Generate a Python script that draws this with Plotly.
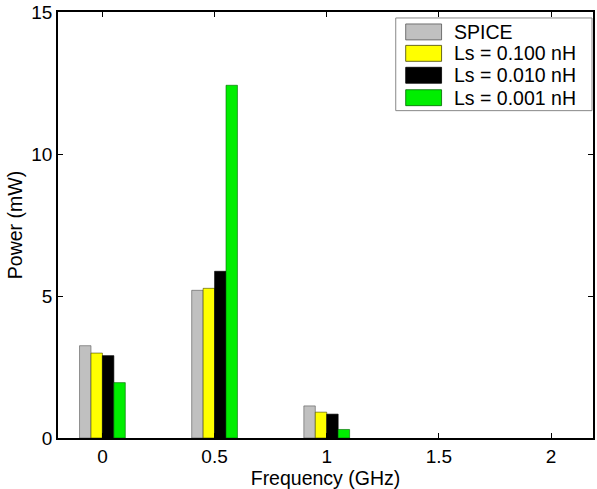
import plotly.graph_objects as go

freq = [0, 0.5, 1.0, 1.5, 2.0]
series_names = ["SPICE", "Ls = 0.100 nH", "Ls = 0.010 nH", "Ls = 0.001 nH"]
spice = [3.25, 5.20, 1.13, 0.0, 0.0]
ls_0100 = [2.99, 5.27, 0.91, 0.0, 0.0]
ls_0010 = [2.90, 5.87, 0.84, 0.0, 0.0]
ls_0001 = [1.95, 12.42, 0.30, 0.0, 0.0]
series_values = [spice, ls_0100, ls_0010, ls_0001]
colors = ["#c0c0c0", "#ffff00", "#000000", "#00ee00"]
edge_colors = ["#555555", "#444400", "#000000", "#006600"]
x_ticks = [0, 0.5, 1, 1.5, 2]
x_ticklabels = ["0", "0.5", "1", "1.5", "2"]
y_ticks = [0, 5, 10, 15]

FONT = "Liberation Sans, Arial, Helvetica, sans-serif"

fig = go.Figure()
for name, vals, c, ec in zip(series_names, series_values, colors, edge_colors):
    widths = [0.6 if v > 0 else 0 for v in vals]
    fig.add_trace(go.Bar(x=freq, y=vals, name=name,
                         marker=dict(color=c, line=dict(color=ec, width=widths)),
                         showlegend=False))

W, H = 597, 489
L, R, T, B = 58, 2, 10.5, 51
pw = W - L - R
ph = H - T - B

def px_x(p):
    return (p - L) / pw

def px_y(p):
    return (H - B - p) / ph

shapes = []
annotations = []
# legend box
shapes.append(dict(type="rect", xref="paper", yref="paper",
                   x0=px_x(397), x1=px_x(594), y0=px_y(109.5), y1=px_y(16.5),
                   line=dict(color="#888888", width=1), fillcolor="white", layer="above"))
row_centers = [30.5, 52, 74, 96.5]
for name, c, ec, yc in zip(series_names, colors, edge_colors, row_centers):
    shapes.append(dict(type="rect", xref="paper", yref="paper",
                       x0=px_x(407), x1=px_x(443), y0=px_y(yc + 8), y1=px_y(yc - 8),
                       line=dict(color=ec, width=0.8), fillcolor=c, layer="above"))
    annotations.append(dict(xref="paper", yref="paper", x=px_x(453), y=px_y(yc),
                            text=name, showarrow=False, xanchor="left", yanchor="middle",
                            font=dict(family=FONT, size=19.5, color="black")))

fig.update_layout(
    width=W, height=H,
    margin=dict(l=L, r=R, t=T, b=B),
    paper_bgcolor="white", plot_bgcolor="white",
    barmode="group", bargap=0.592, bargroupgap=0,
    font=dict(family=FONT, size=19, color="black"),
    shapes=shapes, annotations=annotations,
    showlegend=False,
)
fig.update_xaxes(range=[-0.198, 2.187], tickvals=x_ticks, ticktext=x_ticklabels,
                 showline=True, linecolor="black", linewidth=1.5, mirror="ticks",
                 ticks="inside", ticklen=5, tickwidth=1.2, tickcolor="black",
                 showgrid=False, zeroline=False,
                 title=dict(text="Frequency (GHz)", standoff=0, font=dict(size=19.5)))
fig.update_yaxes(range=[0, 15], tickvals=y_ticks,
                 showline=True, linecolor="black", linewidth=1.5, mirror="ticks",
                 ticks="inside", ticklen=5, tickwidth=1.2, tickcolor="black",
                 showgrid=False, zeroline=False,
                 title=dict(text="Power (mW)", standoff=3, font=dict(size=19.5)))

fig.write_html("out.html")
